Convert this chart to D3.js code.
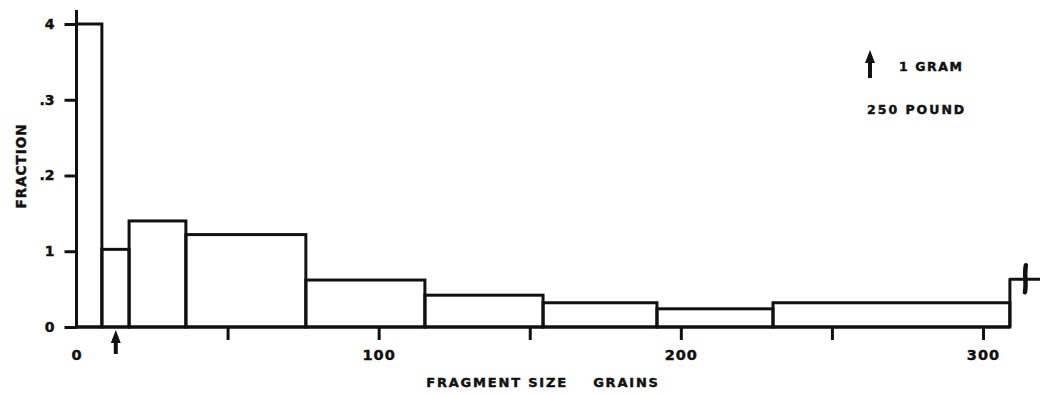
<!DOCTYPE html>
<html>
<head>
<meta charset="utf-8">
<script src="https://cdn.jsdelivr.net/npm/d3@7"></script>
<style>
  body { margin: 0; background: #fff; }
  text { font-family: "DejaVu Sans", sans-serif; font-weight: bold; fill: #111; stroke: #111; stroke-width: 0.45px; }
</style>
</head>
<body>
<div id="chart"></div>
<script>
// bin edges (grains) and fraction per bin
var binEdges = [0, 8.4, 17.4, 36.2, 75.9, 115.3, 154.4, 192.1, 230.5, 308.9, 320];
var fractions = [0.4, 0.1025, 0.14, 0.122, 0.062, 0.042, 0.032, 0.024, 0.032, 0.063];
var xTicks = [0, 50, 100, 150, 200, 250, 300];
var xTickLabels = { 0: "0", 100: "100", 200: "200", 300: "300" };
var yTicks = [0, 0.1, 0.2, 0.3, 0.4];
var yTickLabels = ["0", "1", ".2", ".3", "4"];
var gramMark = 13;   // arrow under axis

var dim = { width: 1040, height: 396 };
var ink = "#111";

var x = d3.scaleLinear().domain([0, 300]).range([76.5, 983]);
var y = d3.scaleLinear().domain([0, 0.4]).range([327, 24]);

var svg = d3.select("#chart").append("svg")
    .attr("width", dim.width)
    .attr("height", dim.height);

// bars, last one runs off the edge
var bars = fractions.map(function(v, i) { return { x0: binEdges[i], x1: binEdges[i + 1], v: v }; });
svg.append("g").attr("class", "bars")
  .selectAll("rect").data(bars.slice(0, bars.length - 1)).enter()
  .append("rect")
    .attr("x", function(d) { return x(d.x0); })
    .attr("y", function(d) { return y(d.v); })
    .attr("width", function(d) { return x(d.x1) - x(d.x0); })
    .attr("height", function(d) { return y(0) - y(d.v); })
    .attr("fill", "none")
    .attr("stroke", ink)
    .attr("stroke-width", 3);

var last = bars[bars.length - 1];
var lx = x(last.x0), ly = y(last.v);
svg.append("path")
    .attr("d", "M" + lx + "," + y(0) + "V" + ly + "H" + dim.width)
    .attr("fill", "none")
    .attr("stroke", ink)
    .attr("stroke-width", 3)
    .attr("stroke-linejoin", "round");
// break mark
svg.append("path")
    .attr("d", "M" + (lx + 16) + "," + (ly - 14) + "C" + (lx + 14) + "," + (ly - 4) + " " + (lx + 17) + "," + (ly + 4) + " " + (lx + 15) + "," + (ly + 13))
    .attr("fill", "none")
    .attr("stroke", ink)
    .attr("stroke-width", 4.5)
    .attr("stroke-linecap", "round");

// x axis
var xAxis = d3.axisBottom(x)
    .tickValues(xTicks)
    .tickSize(13)
    .tickPadding(10)
    .tickFormat(function(d) { return xTickLabels[d] || ""; });
var gx = svg.append("g")
    .attr("transform", "translate(0," + y(0) + ")")
    .call(xAxis);
gx.select(".domain").remove();
gx.selectAll(".tick line").attr("stroke", ink).attr("stroke-width", 3)
    .attr("display", function(d) { return d === 0 ? "none" : null; });
gx.selectAll(".tick text").attr("font-size", 14.5).style("letter-spacing", "1px");
svg.append("line")
    .attr("x1", x(0)).attr("x2", x(binEdges[9]))
    .attr("y1", y(0)).attr("y2", y(0))
    .attr("stroke", ink).attr("stroke-width", 3);

// y axis
var yAxis = d3.axisLeft(y)
    .tickValues(yTicks)
    .tickSize(12)
    .tickPadding(10)
    .tickFormat(function(d, i) { return yTickLabels[i]; });
var gy = svg.append("g")
    .attr("transform", "translate(" + x(0) + ",0)")
    .call(yAxis);
gy.select(".domain").remove();
gy.selectAll(".tick line").attr("stroke", ink).attr("stroke-width", 3);
gy.selectAll(".tick text").attr("font-size", 14);
svg.append("line")
    .attr("x1", x(0)).attr("x2", x(0))
    .attr("y1", y(0) + 1.5).attr("y2", y(0.4) - 14)
    .attr("stroke", ink).attr("stroke-width", 3);

// axis titles
svg.append("text")
    .attr("x", 543).attr("y", 387)
    .attr("text-anchor", "middle")
    .attr("font-size", 13)
    .style("letter-spacing", "1.8px")
    .style("white-space", "pre")
    .text("FRAGMENT SIZE    GRAINS");
svg.append("text")
    .attr("transform", "translate(26,166) rotate(-90)")
    .attr("text-anchor", "middle")
    .attr("font-size", 13.5)
    .style("letter-spacing", "1px")
    .text("FRACTION");

// arrows
function arrow(g, cx, top, bottom) {
  g.append("line")
      .attr("x1", cx).attr("x2", cx)
      .attr("y1", top + 8).attr("y2", bottom)
      .attr("stroke", ink).attr("stroke-width", 4);
  g.append("path")
      .attr("d", "M" + cx + "," + top + "L" + (cx + 5) + "," + (top + 13) + "L" + (cx - 5) + "," + (top + 13) + "Z")
      .attr("fill", ink);
}
arrow(svg, x(gramMark), y(0) + 3, y(0) + 27);

var legend = svg.append("g").attr("transform", "translate(870,50)");
arrow(legend, 0, 0, 28);
legend.append("text")
    .attr("x", 29).attr("y", 20.5)
    .attr("font-size", 12.5)
    .style("letter-spacing", "1.6px")
    .text("1 GRAM");
legend.append("text")
    .attr("x", -3).attr("y", 64)
    .attr("font-size", 12.5)
    .style("letter-spacing", "2px")
    .text("250 POUND");
</script>
</body>
</html>
